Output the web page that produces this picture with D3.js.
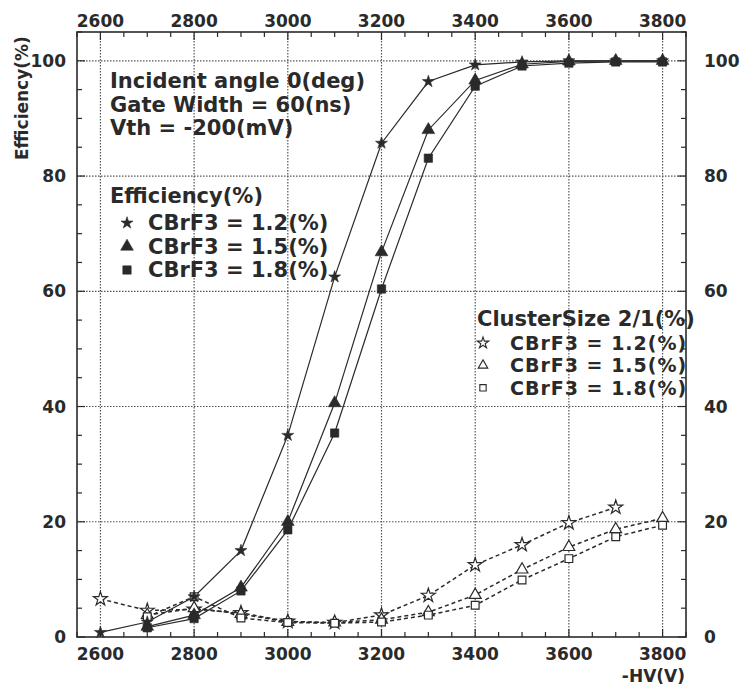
<!DOCTYPE html>
<html>
<head>
<meta charset="utf-8">
<script src="https://cdn.jsdelivr.net/npm/d3@7"></script>
<style>
  html, body { margin: 0; padding: 0; background: #ffffff; }
  svg { display: block; }
  text { font-family: "DejaVu Sans", "Liberation Sans", sans-serif; font-weight: bold; fill: #2a2a2a; }
</style>
</head>
<body>
<svg id="chart" width="745" height="688"></svg>
<script>
// High voltage settings (-HV, volts)
const hv = [2600, 2700, 2800, 2900, 3000, 3100, 3200, 3300, 3400, 3500, 3600, 3700, 3800];

// Efficiency (%) for each CBrF3 admixture
const eff12 = [0.8, 2.6, 7.0, 15.0, 35.0, 62.5, 85.7, 96.4, 99.3, 99.8, 100, 100, 100];
const eff15 = [null, 1.8, 3.8, 8.6, 20.0, 40.6, 66.8, 88.0, 96.6, 99.4, 99.9, 100, 100];
const eff18 = [null, 1.6, 3.2, 8.0, 18.6, 35.4, 60.4, 83.1, 95.6, 99.1, 99.6, 99.8, 99.8];

// Cluster size 2/1 ratio (%) for each CBrF3 admixture
const cls12 = [6.6, 4.6, 4.8, 4.2, 2.7, 2.5, 3.8, 7.2, 12.5, 16.0, 19.8, 22.5, null];
const cls15 = [null, 3.8, 5.0, 4.0, 2.6, 2.5, 3.0, 4.3, 7.3, 11.7, 15.6, 18.7, 20.6];
const cls18 = [null, 3.5, 7.0, 3.3, 2.5, 2.4, 2.6, 3.8, 5.5, 9.9, 13.6, 17.4, 19.4];

// Axis ticks
const xTicks = [2600, 2800, 3000, 3200, 3400, 3600, 3800];
const yTicks = [0, 20, 40, 60, 80, 100];

// Annotation text
const conditions = ["Incident angle 0(deg)", "Gate Width = 60(ns)", "Vth = -200(mV)"];
const effTitle = "Efficiency(%)";
const clsTitle = "ClusterSize 2/1(%)";
const seriesLabels = ["CBrF3 = 1.2(%)", "CBrF3 = 1.5(%)", "CBrF3 = 1.8(%)"];

const svg = d3.select("#chart");
const ink = "#2a2a2a";

const m = { left: 77, right: 686, top: 32, bottom: 637 };
const x = d3.scaleLinear().domain([2550, 3850]).range([m.left, m.right]);
const y = d3.scaleLinear().domain([0, 105]).range([m.bottom, m.top]);

// dotted grid at the major ticks
const grid = svg.append("g").attr("stroke", "#555").attr("stroke-width", 1.2)
  .attr("stroke-dasharray", "1.5,1.5");
grid.selectAll(".gx").data(xTicks).join("line")
  .attr("x1", d => x(d)).attr("x2", d => x(d)).attr("y1", m.top).attr("y2", m.bottom);
grid.selectAll(".gy").data(yTicks.filter(d => d > 0)).join("line")
  .attr("x1", m.left).attr("x2", m.right).attr("y1", d => y(d)).attr("y2", d => y(d));

// inward ticks on all four sides
const xMinor = d3.range(2550, 3851, 50);
const yMinor = d3.range(0, 106, 5);
function tickLen(isMajor) { return isMajor ? 8 : 5; }
const tk = svg.append("g").attr("stroke", ink).attr("stroke-width", 1.2);
xMinor.forEach(v => {
  const L = tickLen(v % 200 === 0);
  tk.append("line").attr("x1", x(v)).attr("x2", x(v)).attr("y1", m.bottom).attr("y2", m.bottom - L);
  tk.append("line").attr("x1", x(v)).attr("x2", x(v)).attr("y1", m.top).attr("y2", m.top + L);
});
yMinor.forEach(v => {
  const L = tickLen(v % 20 === 0);
  tk.append("line").attr("x1", m.left).attr("x2", m.left + L).attr("y1", y(v)).attr("y2", y(v));
  tk.append("line").attr("x1", m.right).attr("x2", m.right - L).attr("y1", y(v)).attr("y2", y(v));
});

// frame
svg.append("rect").attr("x", m.left).attr("y", m.top)
  .attr("width", m.right - m.left).attr("height", m.bottom - m.top)
  .attr("fill", "none").attr("stroke", ink).attr("stroke-width", 1.6);

// tick labels
const tl = svg.append("g").attr("font-size", 17);
tl.selectAll(".xb").data(xTicks).join("text")
  .attr("x", d => x(d)).attr("y", 660).attr("text-anchor", "middle").text(d => d);
tl.selectAll(".xt").data(xTicks).join("text")
  .attr("x", d => x(d)).attr("y", 27).attr("text-anchor", "middle").text(d => d);
tl.selectAll(".yl").data(yTicks).join("text")
  .attr("x", 66).attr("y", d => y(d) + 6).attr("text-anchor", "end").text(d => d);
tl.selectAll(".yr").data(yTicks).join("text")
  .attr("x", 704).attr("y", d => y(d) + 6).attr("text-anchor", "start").text(d => d);

// axis titles
svg.append("text").attr("font-size", 17).attr("text-anchor", "end")
  .attr("x", 685).attr("y", 682).text("-HV(V)");
svg.append("text").attr("font-size", 17).attr("text-anchor", "start")
  .attr("transform", "translate(28,160) rotate(-90)").text("Efficiency(%)");

// series
const shapes = [d3.symbolStar, d3.symbolTriangle, d3.symbolSquare];
const effSeries = [eff12, eff15, eff18];
const clsSeries = [cls12, cls15, cls18];
const effSize = [45, 70, 70];
const clsSize = [60, 60, 60];

const line = d3.line()
  .defined(d => d[1] !== null)
  .x(d => x(d[0])).y(d => y(d[1]));

clsSeries.forEach((vals, i) => {
  const pts = hv.map((h, k) => [h, vals[k]]);
  svg.append("path").datum(pts).attr("d", line)
    .attr("fill", "none").attr("stroke", ink).attr("stroke-width", 1.5)
    .attr("stroke-dasharray", "4,3");
});
effSeries.forEach((vals, i) => {
  const pts = hv.map((h, k) => [h, vals[k]]);
  svg.append("path").datum(pts).attr("d", line)
    .attr("fill", "none").attr("stroke", ink).attr("stroke-width", 1.2);
});
clsSeries.forEach((vals, i) => {
  const pts = hv.map((h, k) => [h, vals[k]]).filter(d => d[1] !== null);
  svg.append("g").selectAll("path").data(pts).join("path")
    .attr("transform", d => `translate(${x(d[0])},${y(d[1])})`)
    .attr("d", d3.symbol().type(shapes[i]).size(clsSize[i]))
    .attr("fill", "#fff").attr("stroke", ink).attr("stroke-width", 1.2);
});
effSeries.forEach((vals, i) => {
  const pts = hv.map((h, k) => [h, vals[k]]).filter(d => d[1] !== null);
  svg.append("g").selectAll("path").data(pts).join("path")
    .attr("transform", d => `translate(${x(d[0])},${y(d[1])})`)
    .attr("d", d3.symbol().type(shapes[i]).size(effSize[i]))
    .attr("fill", ink).attr("stroke", ink).attr("stroke-width", 0.6);
});

// run conditions
svg.append("g").attr("font-size", 21).selectAll("text").data(conditions).join("text")
  .attr("x", 110).attr("y", (d, i) => 88 + i * 23.6).text(d => d);

// efficiency legend
svg.append("text").attr("font-size", 21).attr("x", 110).attr("y", 203).text(effTitle);
const effLeg = svg.append("g");
seriesLabels.forEach((s, i) => {
  const by = 230 + i * 23.5;
  effLeg.append("path").attr("transform", `translate(127,${by - 7})`)
    .attr("d", d3.symbol().type(shapes[i]).size(effSize[i]))
    .attr("fill", ink).attr("stroke", ink).attr("stroke-width", 0.6);
  effLeg.append("text").attr("font-size", 21).attr("x", 148).attr("y", by).text(s);
});

// cluster size legend (tightly stacked rows)
svg.append("text").attr("font-size", 21).attr("x", 477).attr("y", 326).text(clsTitle);
const clsLeg = svg.append("g");
seriesLabels.forEach((s, i) => {
  const by = 350 + i * 22.4;
  clsLeg.append("path").attr("transform", `translate(483,${by - 7})`)
    .attr("d", d3.symbol().type(shapes[i]).size(40))
    .attr("fill", "#fff").attr("stroke", ink).attr("stroke-width", 1.1);
  clsLeg.append("text").attr("font-size", 19).attr("letter-spacing", 1)
    .attr("x", 510).attr("y", by).text(s);
});
</script>
</body>
</html>
